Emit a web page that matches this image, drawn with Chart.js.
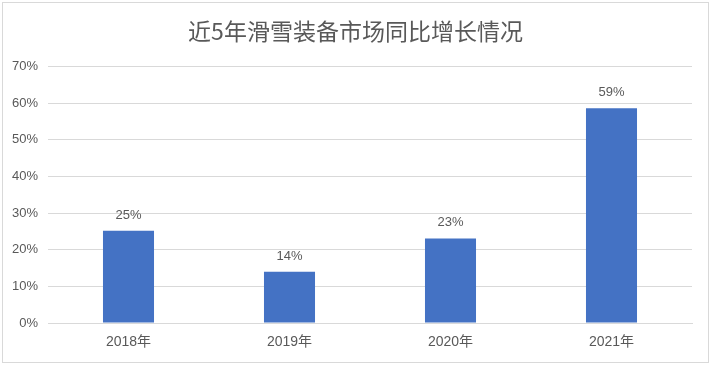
<!DOCTYPE html>
<html>
<head>
<meta charset="utf-8">
<script src="https://cdn.jsdelivr.net/npm/chart.js@4"></script>
<style>
  html, body { margin: 0; padding: 0; background: #fff; }
  #box {
    position: absolute; left: 2px; top: 2px;
    width: 707px; height: 361px;
    box-sizing: border-box; border: 1px solid #d9d9d9;
  }
  #chart1 { display: block; }
</style>
</head>
<body>
<div id="box"><canvas id="chart1" width="705" height="359"></canvas></div>
<script>
const years = ['2018年', '2019年', '2020年', '2021年'];
const growth = [25.2, 14.0, 23.1, 58.6];
const growthLabels = ['25%', '14%', '23%', '59%'];
const yTicks = [0, 10, 20, 30, 40, 50, 60, 70];

const FONT = '"Liberation Sans", "Noto Sans CJK SC", sans-serif';
const GREY = '#595959';

// 柱子上方的数值标签
const valueLabels = {
  id: 'valueLabels',
  afterDatasetsDraw(chart) {
    const ctx = chart.ctx;
    const meta = chart.getDatasetMeta(0);
    ctx.save();
    ctx.font = '13px ' + FONT;
    ctx.fillStyle = GREY;
    ctx.textAlign = 'center';
    ctx.textBaseline = 'bottom';
    meta.data.forEach((bar, i) => {
      ctx.fillText(growthLabels[i], bar.x, bar.y - 9);
    });
    ctx.restore();
  }
};

window.addEventListener('DOMContentLoaded', () => {
  const ctx = document.getElementById('chart1').getContext('2d');
  new Chart(ctx, {
    type: 'bar',
    data: {
      labels: years,
      datasets: [{
        data: growth,
        backgroundColor: '#4472c4',
        categoryPercentage: 1,
        barPercentage: 0.317
      }]
    },
    options: {
      responsive: false,
      animation: false,
      layout: { padding: 0 },
      plugins: {
        legend: { display: false },
        tooltip: { enabled: false },
        title: {
          display: true,
          text: '近5年滑雪装备市场同比增长情况',
          color: GREY,
          font: { family: '"Noto Sans CJK SC", sans-serif', size: 23, weight: 'normal' },
          padding: { top: 14, bottom: 22 }
        }
      },
      scales: {
        x: {
          grid: { display: false },
          border: { display: true, color: '#d9d9d9' },
          ticks: { color: GREY, padding: 3, font: { family: FONT, size: 14 } },
          afterFit(scale) { scale.height = 39; }
        },
        y: {
          min: 0,
          max: 70,
          afterBuildTicks(scale) { scale.ticks = yTicks.map(v => ({ value: v })); },
          grid: { color: '#d9d9d9', drawTicks: false },
          border: { display: false },
          ticks: {
            color: GREY,
            padding: 10,
            font: { family: FONT, size: 13 },
            callback: v => v + '%'
          },
          afterFit(scale) { scale.width = 45; }
        },
        // 右侧留白
        yRight: {
          position: 'right',
          grid: { display: false },
          border: { display: false },
          ticks: { display: false },
          afterFit(scale) { scale.width = 16; }
        }
      }
    },
    plugins: [valueLabels]
  });
});
</script>
</body>
</html>
